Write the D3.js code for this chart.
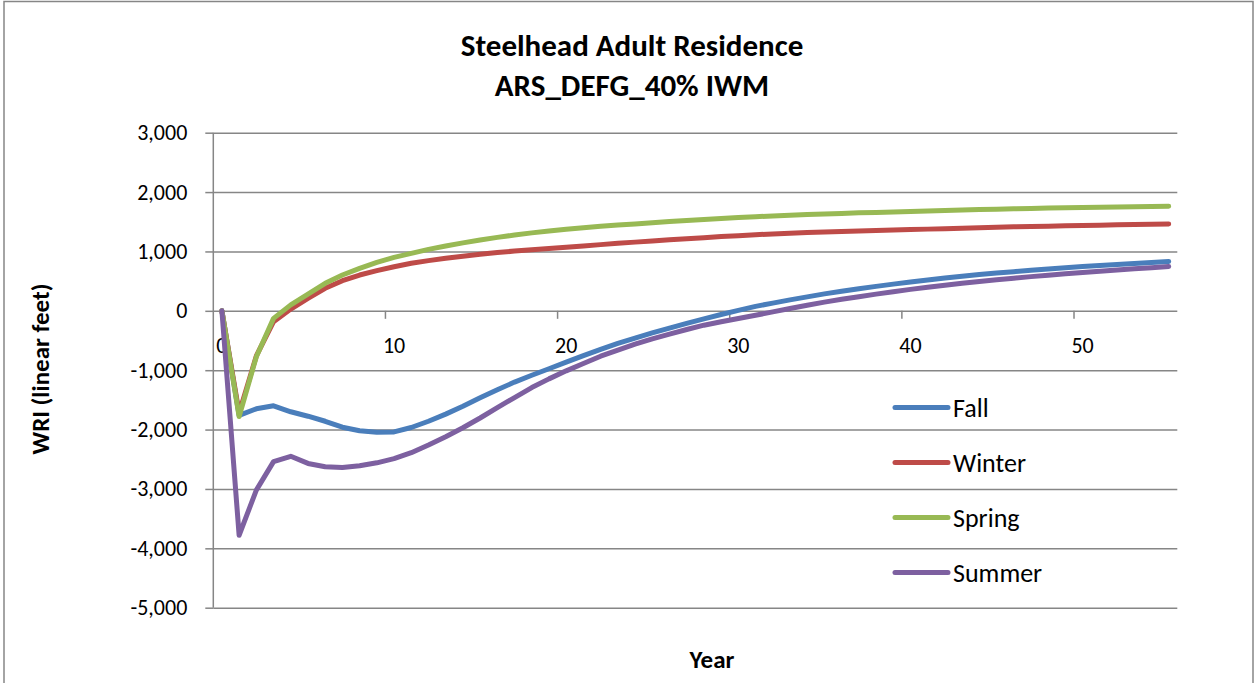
<!DOCTYPE html>
<html>
<head>
<meta charset="utf-8">
<script src="https://cdn.jsdelivr.net/npm/d3@7"></script>
<style>
  html, body { margin: 0; padding: 0; background: #fff; }
  svg { display: block; font-family: Carlito, Calibri, Lato, sans-serif; }
</style>
</head>
<body>
<div id="chart"></div>
<script>
const years = d3.range(0, 56);

const fall = [0, -1760, -1650, -1600, -1700, -1775, -1860, -1960, -2020, -2045, -2040,
  -1965, -1860, -1740, -1607, -1465, -1330, -1200, -1085, -975, -865,
  -755, -650, -550, -458, -372, -290, -210, -135, -62, 8,
  75, 130, 185, 235, 285, 330, 372, 412, 450, 487,
  520, 552, 582, 610, 636, 660, 683, 705, 725, 745,
  763, 781, 798, 815, 832];

const winter = [0, -1720, -760, -183, 30, 210, 379, 508, 603, 676, 743,
  800, 845, 885, 920, 952, 981, 1007, 1030, 1051, 1071,
  1093, 1115, 1137, 1157, 1177, 1196, 1214, 1232, 1250, 1266,
  1281, 1295, 1307, 1318, 1328, 1337, 1346, 1354, 1361, 1368,
  1376, 1384, 1392, 1400, 1407, 1414, 1420, 1426, 1432, 1438,
  1443, 1448, 1453, 1457, 1461];

const spring = [0, -1780, -773, -127, 100, 280, 463, 603, 715, 816, 900,
  968, 1035, 1091, 1145, 1193, 1237, 1277, 1313, 1346, 1375,
  1400, 1423, 1444, 1464, 1484, 1503, 1521, 1538, 1555, 1570,
  1585, 1598, 1610, 1621, 1631, 1641, 1650, 1658, 1666, 1674,
  1682, 1690, 1698, 1705, 1712, 1718, 1724, 1730, 1736, 1741,
  1745, 1749, 1753, 1757, 1760];

const summer = [0, -3780, -3020, -2540, -2450, -2570, -2625, -2640, -2610, -2560, -2490,
  -2390, -2260, -2120, -1970, -1805, -1630, -1461, -1292, -1146, -1011,
  -888, -764, -663, -562, -472, -393, -315, -242, -185, -130,
  -75, -17, 40, 93, 146, 194, 238, 281, 322, 361,
  397, 432, 464, 495, 524, 550, 576, 601, 624, 646,
  667, 688, 707, 727, 747];

const seriesNames = ["Fall", "Winter", "Spring", "Summer"];
const seriesColors = ["#4a7ebb", "#be4b48", "#98b954", "#7d60a0"];
const yTicks = [3000, 2000, 1000, 0, -1000, -2000, -3000, -4000, -5000];
const xLabels = [0, 10, 20, 30, 40, 50];

const width = 1258;
const height = 683;
const gridColor = "#868686";

// excel style numbers: plain hyphen for negatives
const fmt = d3.formatLocale({
  decimal: ".",
  thousands: ",",
  grouping: [3],
  currency: ["$", ""],
  minus: "-",
}).format(",");

const svg = d3
  .select("#chart")
  .append("svg")
  .attr("width", width)
  .attr("height", height);

// outer chart border
svg
  .append("rect")
  .attr("x", 4)
  .attr("y", 1.5)
  .attr("width", 1249)
  .attr("height", 700)
  .attr("fill", "#fff")
  .attr("stroke", gridColor)
  .attr("stroke-width", 1.5);

const x = d3.scaleBand().domain(years).range([213.3, 1177.3]);
const y = d3.scaleLinear().domain([-5000, 3000]).range([607.7, 132.7]);
const xc = (i) => x(years[i]) + x.bandwidth() / 2;

// horizontal gridlines + y ticks
const yAxis = d3
  .axisLeft(y)
  .tickValues(yTicks)
  .tickSize(8)
  .tickPadding(18)
  .tickFormat(fmt);

svg
  .append("g")
  .attr("transform", `translate(${x.range()[0]},0)`)
  .call(yAxis)
  .call((g) => g.select(".domain").remove())
  .call((g) =>
    g
      .selectAll(".tick line")
      .clone()
      .attr("x1", 0)
      .attr("x2", x.range()[1] - x.range()[0])
  )
  .call((g) => g.selectAll("line").attr("stroke", gridColor).attr("stroke-width", 1.5))
  .call((g) =>
    g
      .selectAll("text")
      .attr("fill", "#000")
      .style("font-size", "22px")
      .style("font-family", "Carlito, Calibri, Lato, sans-serif")
  );

// vertical axis line
svg
  .append("line")
  .attr("x1", x.range()[0])
  .attr("x2", x.range()[0])
  .attr("y1", y.range()[1])
  .attr("y2", y.range()[0])
  .attr("stroke", gridColor)
  .attr("stroke-width", 1.5);

// category axis crosses at zero
const xAxis = svg.append("g").attr("transform", `translate(0,${y(0)})`);

xAxis
  .selectAll("line.tick")
  .data(xLabels.filter((d) => d > 0))
  .enter()
  .append("line")
  .attr("class", "tick")
  .attr("x1", (d) => x(d))
  .attr("x2", (d) => x(d))
  .attr("y1", 0)
  .attr("y2", 8)
  .attr("stroke", gridColor)
  .attr("stroke-width", 1.5);

xAxis
  .selectAll("text")
  .data(xLabels)
  .enter()
  .append("text")
  .attr("x", (d) => x(d) + x.bandwidth() / 2)
  .attr("y", 42)
  .attr("text-anchor", "middle")
  .style("font-size", "22px")
  .text((d) => d);

// series lines
const data = [fall, winter, spring, summer];

const line = d3
  .line()
  .x((d, i) => xc(i))
  .y((d) => y(d));

svg
  .append("g")
  .selectAll("path")
  .data(data)
  .enter()
  .append("path")
  .attr("d", line)
  .attr("fill", "none")
  .attr("stroke", (_, i) => seriesColors[i])
  .attr("stroke-width", 5)
  .attr("stroke-linejoin", "round")
  .attr("stroke-linecap", "round");

// legend
const legend = svg
  .append("g")
  .selectAll("g")
  .data(seriesNames)
  .enter()
  .append("g")
  .attr("transform", (_, i) => `translate(894,${407.5 + i * 55})`);

legend
  .append("line")
  .attr("x1", 1)
  .attr("x2", 54)
  .attr("stroke", (_, i) => seriesColors[i])
  .attr("stroke-width", 5)
  .attr("stroke-linecap", "round");

legend
  .append("text")
  .attr("x", 59)
  .attr("y", 9)
  .style("font-size", "26px")
  .text((d) => d);

// titles
svg
  .append("text")
  .attr("x", 632)
  .attr("y", 56)
  .attr("text-anchor", "middle")
  .style("font-size", "31px")
  .style("font-weight", "bold")
  .text("Steelhead Adult Residence");

svg
  .append("text")
  .attr("x", 632)
  .attr("y", 96)
  .attr("text-anchor", "middle")
  .style("font-size", "31px")
  .style("font-weight", "bold")
  .text("ARS_DEFG_40% IWM");

svg
  .append("text")
  .attr("transform", "translate(49,369) rotate(-90)")
  .attr("text-anchor", "middle")
  .style("font-size", "25px")
  .style("font-weight", "bold")
  .text("WRI (linear feet)");

svg
  .append("text")
  .attr("x", 712)
  .attr("y", 668)
  .attr("text-anchor", "middle")
  .style("font-size", "25px")
  .style("font-weight", "bold")
  .text("Year");
</script>
</body>
</html>
